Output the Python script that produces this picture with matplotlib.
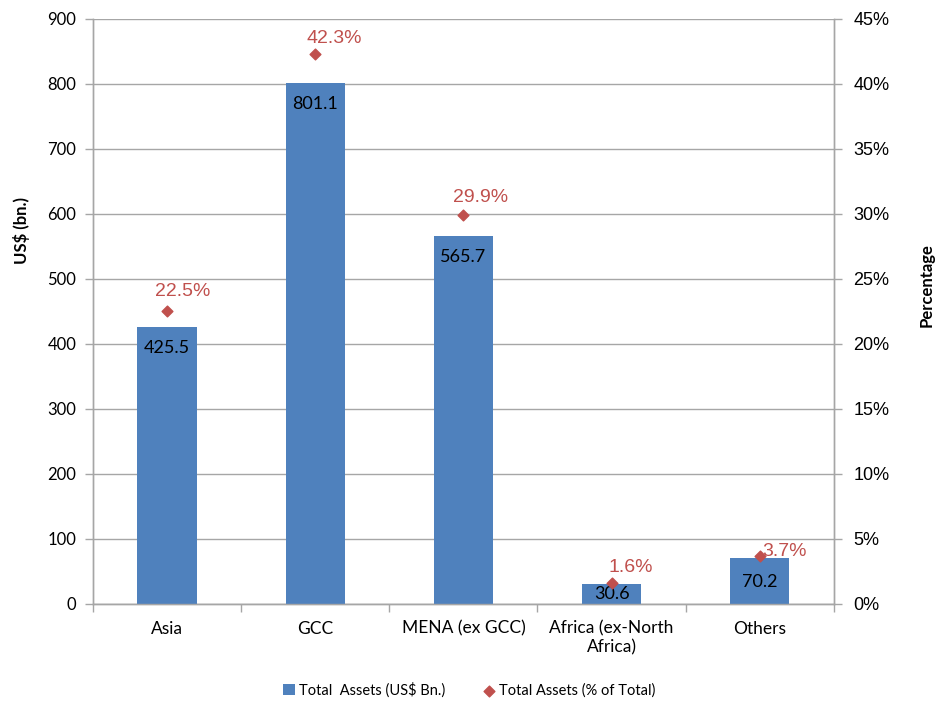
import matplotlib.pyplot as plt
import numpy as np

regions = ['Asia', 'GCC', 'MENA (ex GCC)', 'Africa (ex-North\nAfrica)', 'Others']
assets_bn = [425.5, 801.1, 565.7, 30.6, 70.2]
share_pct = [22.5, 42.3, 29.9, 1.6, 3.7]
# where each percentage label sits relative to its diamond (points)
pct_offsets = [(11, 14), (14, 11), (12, 13), (14, 11), (18, 3)]
# how far each value label sits below its bar top (points)
val_drops = [15, 15, 15, 7, 17]

bar_color = '#4F81BD'
dot_color = '#C0504D'
grid_color = '#A6A6A6'
body_font = ['Lato', 'DejaVu Sans']
num_font = ['Liberation Sans', 'DejaVu Sans']

fig = plt.figure(figsize=(9.39, 7.03), dpi=100)
ax = fig.add_axes([0.099, 0.141, 0.789, 0.832])
ax2 = ax.twinx()

x = np.arange(len(regions))
ax.bar(x, assets_bn, width=0.4, color=bar_color, zorder=3, label='Total  Assets (US$ Bn.)')
ax.set_xlim(-0.5, len(regions) - 0.5)
ax.set_ylim(0, 900)
ax.set_yticks(range(0, 901, 100))
ax.grid(axis='y', color=grid_color, linewidth=1, zorder=0)
ax.set_axisbelow(True)

# value labels just inside the top of each bar
for xi, v, d in zip(x, assets_bn, val_drops):
    ax.annotate(f'{v:.1f}', (xi, v), xytext=(0, -d), textcoords='offset points',
                ha='center', va='center', fontsize=13, family=body_font, color='black', zorder=5)

ax2.scatter(x, share_pct, marker='D', s=30, color=dot_color, zorder=4,
            label='Total Assets (% of Total)')
ax2.set_ylim(0, 45)
ax2.set_yticks(range(0, 46, 5))
ax2.set_yticklabels([f'{t}%' for t in range(0, 46, 5)])
for xi, p, off in zip(x, share_pct, pct_offsets):
    ax2.annotate(f'{p:.1f}%', (xi, p), xytext=off, textcoords='offset points',
                 ha='center', va='center', fontsize=14, family=num_font, color=dot_color)

# category labels between boundary tick marks
ax.set_xticks(x)
ax.set_xticklabels(regions, fontsize=12.5, family=body_font)
ax.tick_params(axis='x', which='major', length=0, pad=12)
ax.set_xticks(np.arange(-0.5, len(regions)), minor=True)
ax.tick_params(axis='x', which='minor', length=6, color=grid_color, width=1)

ax.tick_params(axis='y', length=6, color=grid_color, width=1, labelsize=12, pad=6)
for lbl in ax.get_yticklabels():
    lbl.set_family(body_font)
ax2.tick_params(axis='y', length=6, color=grid_color, width=1, labelsize=13, pad=8)
for lbl in ax2.get_yticklabels():
    lbl.set_family(num_font)

for a in (ax, ax2):
    a.spines['top'].set_visible(False)
    for s in ('left', 'right', 'bottom'):
        a.spines[s].set_color(grid_color)
        a.spines[s].set_linewidth(1)

ax.set_ylabel('US$ (bn.)', fontsize=12, fontweight='bold', family=body_font)
ax.yaxis.set_label_coords(-0.085, 0.639)
ax2.set_ylabel('Percentage', fontsize=12, fontweight='bold', family=body_font)
ax2.yaxis.set_label_coords(1.114, 0.545)

h1, l1 = ax.get_legend_handles_labels()
h2, l2 = ax2.get_legend_handles_labels()
fig.legend(h1 + h2, l1 + l2, loc='center', bbox_to_anchor=(0.5, 0.018), ncol=2,
           frameon=False, prop={'family': body_font, 'size': 10.5},
           handlelength=0.8, handleheight=0.8, handletextpad=0.3, columnspacing=2.6)

fig.savefig('out.png', dpi=100)
